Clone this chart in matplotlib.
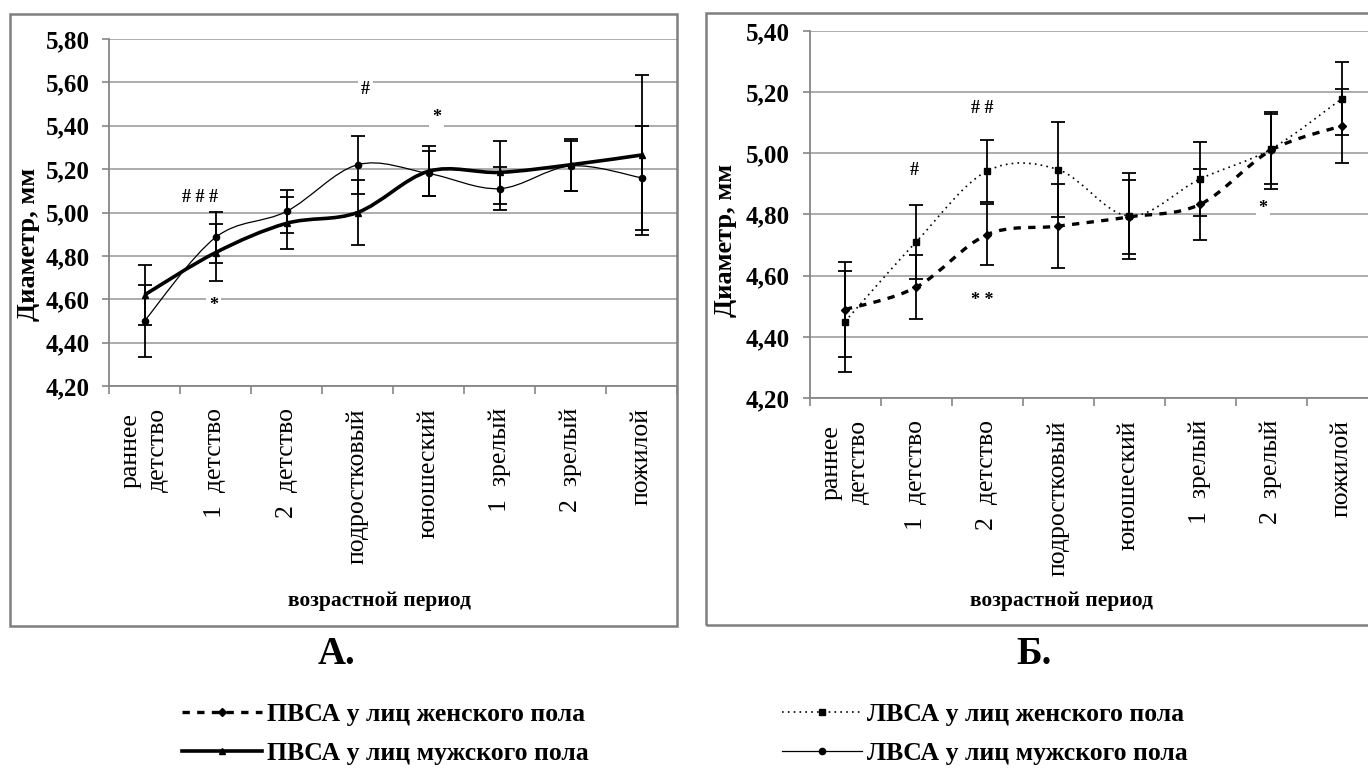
import numpy as np
import matplotlib.pyplot as plt
from matplotlib.path import Path
from matplotlib.patches import PathPatch, Rectangle
from matplotlib.lines import Line2D

plt.rcParams['font.family'] = ['Liberation Serif', 'DejaVu Serif']

# categories (age periods)
periods = ["раннее\nдетство", "1  детство", "2  детство", "подростковый",
           "юношеский", "1  зрелый", "2  зрелый", "пожилой"]

# chart A: men
a_pvsa_m = [4.62, 4.815, 4.95, 5.00, 5.19, 5.185, 5.22, 5.265]
a_pvsa_m_err = [0.14, 0.133, 0.12, 0.15, 0.115, 0.145, 0.12, 0.37]
a_lvsa_m = [4.50, 4.885, 5.005, 5.22, 5.18, 5.11, 5.215, 5.16]
a_lvsa_m_err = [0.165, 0.117, 0.10, 0.135, 0.105, 0.10, 0.115, 0.24]

# chart B: women
b_lvsa_f = [4.45, 4.71, 4.942, 4.947, 4.795, 4.916, 5.014, 5.179]
b_lvsa_f_err = [0.165, 0.12, 0.10, 0.155, 0.14, 0.12, 0.115, 0.12]
b_pvsa_f = [4.489, 4.562, 4.734, 4.762, 4.792, 4.833, 5.01, 5.09]
b_pvsa_f_err = [0.155, 0.105, 0.10, 0.137, 0.12, 0.117, 0.125, 0.12]

# significance marks: (text, x, y)
a_marks = [("# # #", 0.78, 5.067), ("*", 0.97, 4.569), ("#", 3.11, 5.565), ("*", 4.11, 5.44)]
b_marks = [("#", 0.97, 4.945), ("# #", 1.93, 5.148), ("* *", 1.93, 4.52), ("*", 5.89, 4.82)]

GRID = '#a6a6a6'
AXC = '#868686'


def smooth_line(ax, y, **kw):
    # Excel-style smoothed line (Catmull-Rom -> cubic Bezier)
    x = np.arange(len(y), dtype=float)
    y = np.asarray(y, dtype=float)
    n = len(y)
    verts = [(x[0], y[0])]
    codes = [Path.MOVETO]
    for i in range(n - 1):
        p0 = max(i - 1, 0)
        p3 = min(i + 2, n - 1)
        c1 = (x[i] + (x[i + 1] - x[p0]) / 6, y[i] + (y[i + 1] - y[p0]) / 6)
        c2 = (x[i + 1] - (x[p3] - x[i]) / 6, y[i + 1] - (y[p3] - y[i]) / 6)
        verts += [c1, c2, (x[i + 1], y[i + 1])]
        codes += [Path.CURVE4] * 3
    ax.add_patch(PathPatch(Path(verts, codes), fill=False, **kw))


def setup(ax, ymin, ymax, xlab_xy, ylab_xy):
    ax.set_xlim(-0.5, 7.5)
    ax.set_ylim(ymin, ymax)
    ticks = np.arange(ymin, ymax + 0.001, 0.2)
    ax.set_yticks(ticks)
    ax.set_yticklabels([f"{t:.2f}".replace('.', ',') for t in ticks],
                       fontsize=18, fontweight='bold')
    ax.yaxis.grid(True, color=GRID, lw=1.3)
    ax.set_axisbelow(True)
    ax.set_xticks(range(len(periods)))
    ax.set_xticklabels(periods, rotation=90, va='top', ha='center', fontsize=18.5,
                       linespacing=1.3)
    ax.set_xticks(np.arange(-0.5, 8, 1), minor=True)
    ax.tick_params(axis='x', which='major', length=0, pad=16)
    ax.tick_params(axis='x', which='minor', length=6, color=AXC, width=1.2)
    ax.tick_params(axis='y', length=5, color=AXC, width=1.2, pad=9)
    for s in ['top', 'right']:
        ax.spines[s].set_visible(False)
    for s in ['left', 'bottom']:
        ax.spines[s].set_color(AXC)
        ax.spines[s].set_linewidth(1.3)
    ax.set_xlabel("возрастной период", fontsize=15.5, fontweight='bold')
    ax.xaxis.set_label_coords(*xlab_xy)
    ax.xaxis.label.set_va('center')
    ax.set_ylabel("Диаметр, мм", fontsize=19, fontweight='bold')
    ax.yaxis.set_label_coords(*ylab_xy)
    ax.yaxis.label.set_va('center')


def marks(ax, items):
    for t, x, y in items:
        ax.text(x, y, t, ha='center', va='center', fontsize=13, fontweight='bold',
                bbox=dict(facecolor='white', edgecolor='none', pad=2))


fig = plt.figure(figsize=(13.68, 7.71), dpi=100)

# outer frames of the two chart areas
fig.patches.append(Rectangle((10 / 1368, 1 - 626 / 771), 667 / 1368, 612 / 771,
                             transform=fig.transFigure, fill=False,
                             edgecolor='#7f7f7f', lw=1.8))
fig.patches.append(Rectangle((706 / 1368, 1 - 625 / 771), 700 / 1368, 612 / 771,
                             transform=fig.transFigure, fill=False,
                             edgecolor='#7f7f7f', lw=1.8))

axA = fig.add_axes([109 / 1368, 1 - 386 / 771, 568 / 1368, 347 / 771])
axB = fig.add_axes([809.5 / 1368, 1 - 398 / 771, 568 / 1368, 367 / 771])

setup(axA, 4.2, 5.8, (0.477, -(601 - 386) / 347), (-0.142, 0.409))
setup(axB, 4.2, 5.4, (0.443, -(601 - 398) / 367), (-0.148, 0.43))

x = np.arange(len(periods))
eb = dict(fmt='none', ecolor='black', elinewidth=1.3, capsize=5, capthick=1.3)

# chart A
axA.errorbar(x, a_pvsa_m, yerr=a_pvsa_m_err, **eb)
axA.errorbar(x, a_lvsa_m, yerr=a_lvsa_m_err, **eb)
smooth_line(axA, a_lvsa_m, edgecolor='black', lw=0.9)
smooth_line(axA, a_pvsa_m, edgecolor='black', lw=2.6)
axA.plot(x, a_pvsa_m, ls='none', marker='^', ms=5, color='black')
axA.plot(x, a_lvsa_m, ls='none', marker='o', ms=4.5, color='black')
marks(axA, a_marks)

# chart B
axB.errorbar(x, b_lvsa_f, yerr=b_lvsa_f_err, **eb)
axB.errorbar(x, b_pvsa_f, yerr=b_pvsa_f_err, **eb)
smooth_line(axB, b_lvsa_f, edgecolor='black', lw=1.2, linestyle=(0, (1, 2.5)))
smooth_line(axB, b_pvsa_f, edgecolor='black', lw=2.4, linestyle=(0, (2.2, 2.2)))
axB.plot(x, b_lvsa_f, ls='none', marker='s', ms=4.5, color='black')
axB.plot(x, b_pvsa_f, ls='none', marker='D', ms=4.5, color='black')
marks(axB, b_marks)

fig.text(336 / 1368, 1 - 655 / 771, "А.", ha='center', va='center',
         fontsize=28, fontweight='bold')
fig.text(1034 / 1368, 1 - 655 / 771, "Б.", ha='center', va='center',
         fontsize=28, fontweight='bold')

h_left = [Line2D([], [], color='black', lw=2.4, ls=(0, (2.2, 2.2)), marker='D', ms=4.5),
          Line2D([], [], color='black', lw=2.6, marker='^', ms=5)]
h_right = [Line2D([], [], color='black', lw=1.2, ls=(0, (1, 2.5)), marker='s', ms=4.5),
           Line2D([], [], color='black', lw=0.9, marker='o', ms=4.5)]
lab_left = ["ПВСА у лиц женского пола", "ПВСА у лиц мужского пола"]
lab_right = ["ЛВСА у лиц женского пола", "ЛВСА у лиц мужского пола"]

leg_kw = dict(loc='center left', frameon=False, borderpad=0, borderaxespad=0,
              handlelength=3.1, handletextpad=0.22, labelspacing=0.62,
              prop={'size': 18.5, 'weight': 'bold'})
fig.legend(h_left, lab_left, bbox_to_anchor=(182 / 1368, 1 - 734 / 771), **leg_kw)
fig.legend(h_right, lab_right, bbox_to_anchor=(782 / 1368, 1 - 734 / 771), **leg_kw)

fig.savefig("out.png", dpi=100)
